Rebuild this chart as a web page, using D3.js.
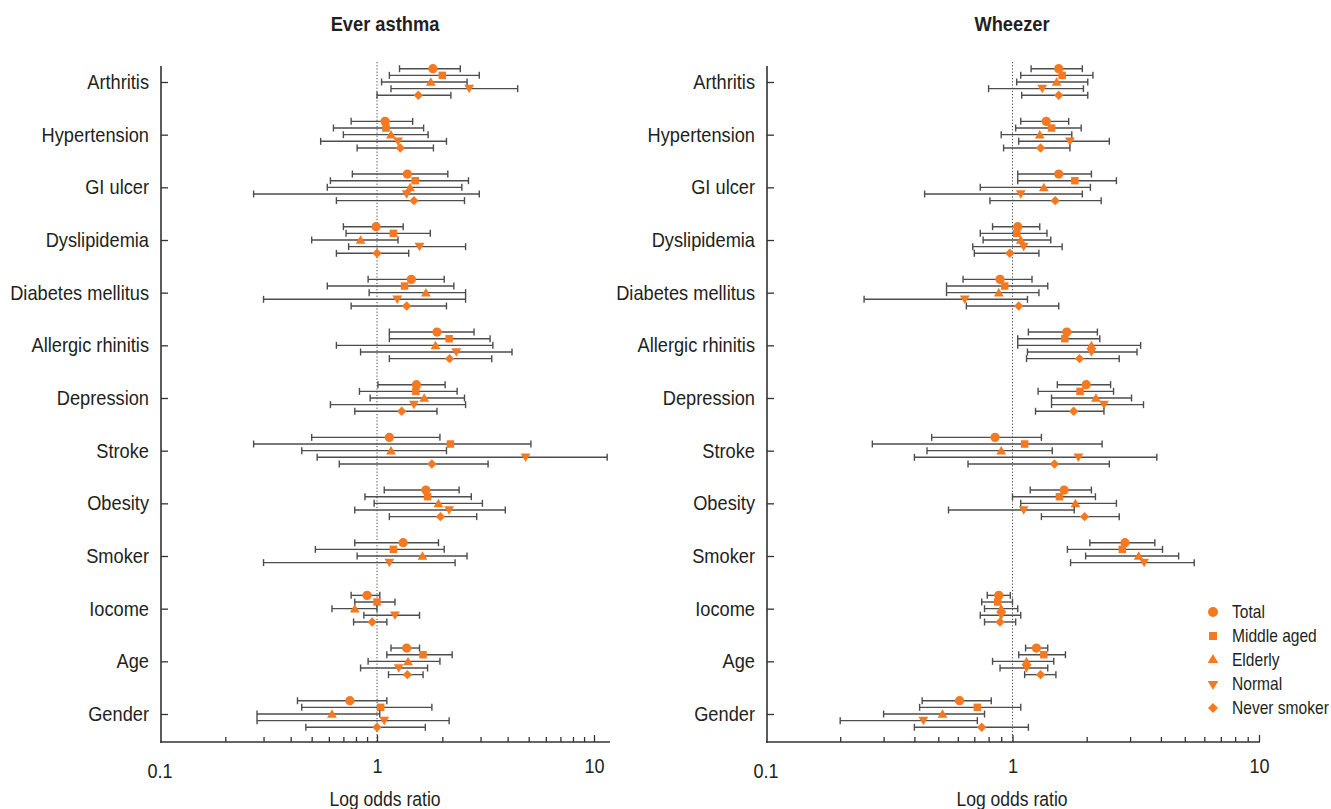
<!DOCTYPE html>
<html>
<head>
<meta charset="utf-8">
<script src="https://cdn.jsdelivr.net/npm/d3@7"></script>
<style>
  body { margin: 0; background: #fff; }
  svg text { font-family: "Liberation Sans", Arial, sans-serif; fill: #231f20; }
</style>
</head>
<body>
<div id="chart"></div>
<script>
const categories = ["Arthritis", "Hypertension", "GI ulcer", "Dyslipidemia", "Diabetes mellitus", "Allergic rhinitis",
  "Depression", "Stroke", "Obesity", "Smoker", "Iocome", "Age", "Gender"];
const seriesNames = ["Total", "Middle aged", "Elderly", "Normal", "Never smoker"];
const xTickLabels = ["0.1", "1", "10"];

// Ever asthma: odds ratio, lower and upper CI (one row per category, one value per series)
const asthmaOR = [
  [1.81, 2.00, 1.77, 2.66, 1.55], [1.09, 1.10, 1.16, 1.25, 1.28], [1.38, 1.50, 1.42, 1.37, 1.48],
  [0.99, 1.19, 0.84, 1.57, 1.00], [1.44, 1.34, 1.68, 1.24, 1.37], [1.89, 2.15, 1.86, 2.32, 2.16],
  [1.52, 1.51, 1.65, 1.48, 1.30], [1.14, 2.18, 1.16, 4.84, 1.79], [1.68, 1.71, 1.92, 2.15, 1.96],
  [1.32, 1.19, 1.62, 1.14, null], [0.90, 1.00, 0.79, 1.21, 0.95], [1.37, 1.63, 1.39, 1.26, 1.38],
  [0.75, 1.04, 0.62, 1.08, 1.00]
];
const asthmaLow = [
  [1.27, 1.14, 1.05, 1.16, 1.00], [0.76, 0.63, 0.70, 0.55, 0.81], [0.77, 0.61, 0.59, 0.27, 0.65],
  [0.70, 0.72, 0.50, 0.74, 0.65], [0.91, 0.59, 0.92, 0.30, 0.76], [1.14, 1.14, 0.65, 0.84, 1.14],
  [1.01, 0.83, 0.93, 0.61, 0.79], [0.50, 0.27, 0.45, 0.53, 0.67], [1.08, 0.88, 0.97, 0.79, 1.14],
  [0.79, 0.52, 0.81, 0.30, null], [0.76, 0.79, 0.62, 0.87, 0.78], [1.16, 1.11, 0.91, 0.84, 1.13],
  [0.43, 0.45, 0.28, 0.28, 0.47]
];
const asthmaHigh = [
  [2.42, 2.96, 2.60, 4.45, 2.19], [1.46, 1.64, 1.72, 2.09, 1.82], [2.12, 2.64, 2.46, 2.96, 2.53],
  [1.32, 1.76, 1.25, 2.56, 1.40], [2.04, 2.26, 2.56, 2.56, 2.09], [2.80, 3.32, 3.42, 4.19, 3.38],
  [2.06, 2.34, 2.53, 2.56, 1.89], [1.95, 5.12, 2.09, 11.5, 3.25], [2.39, 2.72, 3.06, 3.90, 2.88],
  [1.92, 2.04, 2.60, 2.29, null], [1.03, 1.21, 1.00, 1.57, 1.11], [1.57, 2.22, 1.95, 1.71, 1.63],
  [1.11, 1.79, 1.03, 2.15, 1.67]
];

// Wheezer
const wheezeOR = [
  [1.54, 1.59, 1.51, 1.32, 1.54], [1.37, 1.44, 1.29, 1.71, 1.30], [1.54, 1.79, 1.34, 1.08, 1.49],
  [1.05, 1.04, 1.08, 1.11, 0.975], [0.89, 0.93, 0.88, 0.64, 1.06], [1.66, 1.63, 2.09, 2.09, 1.87],
  [1.99, 1.88, 2.18, 2.35, 1.77], [0.85, 1.12, 0.90, 1.85, 1.48], [1.62, 1.55, 1.80, 1.11, 1.96],
  [2.86, 2.79, 3.25, 3.42, null], [0.88, 0.87, 0.90, 0.90, 0.89], [1.25, 1.34, 1.14, 1.14, 1.30],
  [0.61, 0.72, 0.52, 0.435, 0.75]
];
const wheezeLow = [
  [1.19, 1.08, 1.04, 0.80, 1.09], [1.08, 1.03, 0.90, 1.06, 0.92], [1.05, 1.05, 0.74, 0.44, 0.81],
  [0.83, 0.74, 0.76, 0.69, 0.70], [0.63, 0.54, 0.54, 0.25, 0.65], [1.16, 1.05, 1.05, 1.15, 1.14],
  [1.52, 1.27, 1.44, 1.44, 1.24], [0.47, 0.27, 0.45, 0.40, 0.66], [1.18, 1.00, 1.08, 0.55, 1.31],
  [2.06, 1.67, 1.98, 1.72, null], [0.79, 0.75, 0.77, 0.74, 0.77], [1.13, 1.06, 0.83, 0.89, 1.12],
  [0.43, 0.42, 0.30, 0.20, 0.40]
];
const wheezeHigh = [
  [1.92, 2.12, 2.02, 1.94, 2.02], [1.69, 1.90, 1.74, 2.47, 1.71], [2.09, 2.64, 2.07, 1.92, 2.29],
  [1.29, 1.38, 1.43, 1.59, 1.28], [1.20, 1.39, 1.28, 1.15, 1.54], [2.21, 2.26, 3.31, 3.20, 2.71],
  [2.50, 2.57, 3.04, 3.40, 2.35], [1.31, 2.31, 1.45, 3.85, 2.47], [2.09, 2.17, 2.64, 1.78, 2.71],
  [3.78, 4.06, 4.72, 5.46, null], [0.98, 1.00, 1.05, 1.08, 1.03], [1.39, 1.64, 1.47, 1.39, 1.50],
  [0.82, 1.08, 0.77, 0.72, 1.16]
];

const width = 1331, height = 809;
const orange = "#f47920";
const axisY = 742;

const svg = d3.select("#chart").append("svg")
  .attr("width", width)
  .attr("height", height);

const y = d3.scalePoint().domain(categories).range([82, 714]);
const yOff = d3.scalePoint().domain(seriesNames).range([-13.3, 13.3]);

const symbols = {
  "Total": { type: d3.symbolCircle, size: 68, rot: 0 },
  "Middle aged": { type: d3.symbolSquare, size: 56, rot: 0 },
  "Elderly": { type: d3.symbolTriangle, size: 42, rot: 0 },
  "Normal": { type: d3.symbolTriangle, size: 42, rot: 180 },
  "Never smoker": { type: d3.symbolSquare, size: 44, rot: 45 }
};

// the original uses a condensed face; squeeze a regular one horizontally
function squeeze(sel, sx) {
  sel.each(function () {
    const t = d3.select(this);
    const x = +t.attr("x") || 0;
    t.attr("x", x / sx).attr("transform", `scale(${sx},1)`);
  });
}

function drawPanel(title, left, decade, xEnd, orData, lowData, highData, labelX) {
  const x = d3.scaleLog().domain([0.1, 10]).range([left, left + 2 * decade]);
  const g = svg.append("g");

  // title
  g.append("text")
    .attr("x", labelX).attr("y", 31)
    .attr("text-anchor", "middle")
    .style("font-size", "21px").style("font-weight", "bold")
    .text(title)
    .call(squeeze, 0.87);

  // reference line at OR = 1
  g.append("line")
    .attr("x1", x(1)).attr("x2", x(1))
    .attr("y1", 62).attr("y2", axisY)
    .attr("stroke", "#444").attr("stroke-width", 1)
    .attr("stroke-dasharray", "1.2,2");

  // y axis
  const yAxis = d3.axisLeft(y).tickSizeInner(-7).tickSizeOuter(0).tickPadding(12);
  const yG = g.append("g").attr("transform", `translate(${left + 1},0)`).call(yAxis);
  yG.select(".domain").remove();
  yG.selectAll(".tick line").attr("stroke", "#333").attr("stroke-width", 1.3);
  yG.selectAll(".tick text").style("font-size", "20.5px").attr("fill", "#231f20").call(squeeze, 0.89);
  g.append("line")
    .attr("x1", left + 1).attr("x2", left + 1)
    .attr("y1", 66).attr("y2", axisY + 0.8)
    .attr("stroke", "#333").attr("stroke-width", 1.6);

  // x axis: major ticks with labels, minor ticks without
  const tickVals = [];
  [0.1, 1].forEach(d => { for (let k = 1; k <= 9; k++) tickVals.push(d * k); });
  tickVals.push(10);
  const xAxis = d3.axisBottom(x)
    .tickValues(tickVals.slice(1))
    .tickSizeInner(-5).tickSizeOuter(0).tickPadding(16)
    .tickFormat(d => {
      const idx = [1, 10].indexOf(Math.round(d * 1000) / 1000);
      return idx >= 0 ? xTickLabels[idx + 1] : "";
    });
  const xG = g.append("g").attr("transform", `translate(0,${axisY})`).call(xAxis);
  xG.select(".domain").remove();
  xG.selectAll(".tick line").attr("stroke", "#333").attr("stroke-width", 1.3)
    .attr("y2", d => (Math.abs(d - 1) < 1e-9 || Math.abs(d - 10) < 1e-9) ? -7 : -5);
  xG.selectAll(".tick text").style("font-size", "21px").attr("fill", "#231f20").call(squeeze, 0.86);
  g.append("text")
    .attr("x", x(0.1)).attr("y", axisY + 36)
    .attr("text-anchor", "middle").style("font-size", "21px")
    .text(xTickLabels[0])
    .call(squeeze, 0.86);
  g.append("line")
    .attr("x1", left).attr("x2", xEnd)
    .attr("y1", axisY).attr("y2", axisY)
    .attr("stroke", "#333").attr("stroke-width", 1.6);

  g.append("text")
    .attr("x", labelX).attr("y", 806)
    .attr("text-anchor", "middle").style("font-size", "19.5px")
    .text("Log odds ratio")
    .call(squeeze, 0.9);

  // rows
  const rows = [];
  categories.forEach((c, i) => {
    seriesNames.forEach((s, j) => {
      if (orData[i][j] == null) return;
      rows.push({ cat: c, series: s, or: orData[i][j], lo: lowData[i][j], hi: highData[i][j] });
    });
  });

  const bars = g.append("g").selectAll("g").data(rows).enter().append("g")
    .attr("transform", d => `translate(0,${y(d.cat) + yOff(d.series)})`);
  bars.append("line")
    .attr("x1", d => x(d.lo)).attr("x2", d => x(d.hi))
    .attr("stroke", "#4d4d4d").attr("stroke-width", 1.4);
  bars.append("line")
    .attr("x1", d => x(d.lo)).attr("x2", d => x(d.lo))
    .attr("y1", -3.5).attr("y2", 3.5)
    .attr("stroke", "#4d4d4d").attr("stroke-width", 1.4);
  bars.append("line")
    .attr("x1", d => x(d.hi)).attr("x2", d => x(d.hi))
    .attr("y1", -3.5).attr("y2", 3.5)
    .attr("stroke", "#4d4d4d").attr("stroke-width", 1.4);
  bars.append("path")
    .attr("d", d => d3.symbol().type(symbols[d.series].type).size(symbols[d.series].size)())
    .attr("transform", d => `translate(${x(d.or)},${d.series === "Elderly" ? 1 : (d.series === "Normal" ? -1 : 0)}) rotate(${symbols[d.series].rot})`)
    .attr("fill", orange);
}

drawPanel("Ever asthma", 160, 217, 610, asthmaOR, asthmaLow, asthmaHigh, 385);
drawPanel("Wheezer", 766, 246.5, 1260, wheezeOR, wheezeLow, wheezeHigh, 1012);

// legend
const legend = svg.append("g").attr("transform", "translate(1213,612)");
const li = legend.selectAll("g").data(seriesNames).enter().append("g")
  .attr("transform", (d, i) => `translate(0,${i * 24})`);
li.append("path")
  .attr("d", d => d3.symbol().type(symbols[d].type).size(symbols[d].size * 1.15)())
  .attr("transform", d => `rotate(${symbols[d].rot})`)
  .attr("fill", orange);
li.append("text")
  .attr("x", 19).attr("dy", "0.35em")
  .style("font-size", "17.5px")
  .text(d => d)
  .call(squeeze, 0.89);
</script>
</body>
</html>
